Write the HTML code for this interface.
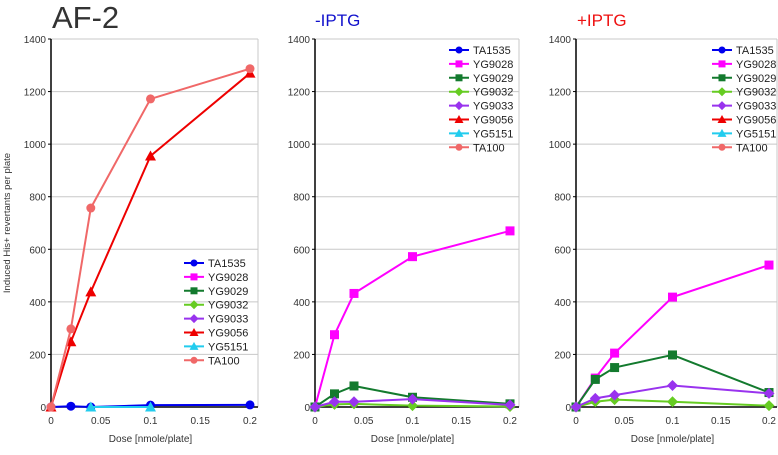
<!DOCTYPE html>
<html><head><meta charset="utf-8"><style>
body{margin:0;background:#fff;font-family:"Liberation Sans",Arial,sans-serif}
</style></head><body>
<svg id="c" width="778" height="450" xmlns="http://www.w3.org/2000/svg" font-family="Liberation Sans, Arial, sans-serif"></svg>
<script>
const doses=[0,0.02,0.04,0.1,0.2];
const strains=["TA1535","YG9028","YG9029","YG9032","YG9033","YG9056","YG5151","TA100"];
const colors=["#0000ee","#ff00ff","#137a2e","#66cc22","#9933ee","#ee0000","#22ccee","#f06868"];
const markers=["circle","square","square","diamond","diamond","triangle","triangle","circle"];
const yTicks=[0,200,400,600,800,1000,1200,1400];
const xTicks=[0,0.05,0.1,0.15,0.2];
const af2=[[0,3,0,7,8],null,null,null,null,[0,248,438,955,1270],[null,null,0,0,null],[0,297,757,1172,1287]];
const minus=[null,[0,275,432,572,670],[0,50,80,37,12],[0,10,12,5,2],[0,20,20,30,8],null,null,null];
const plus=[null,[0,110,205,418,540],[0,105,150,198,55],[0,20,28,20,5],[0,33,45,82,52],null,null,null];
const panels=[{d:af2,x0:51,x1:250,r:258,leg:[184,263],name:"af2"},{d:minus,x0:315,x1:510,r:519,leg:[449,50],name:"minus-iptg"},{d:plus,x0:576,x1:769,r:777,leg:[712,50],name:"plus-iptg"}];
const svg=document.getElementById('c');const NS="http://www.w3.org/2000/svg";
function el(t,a,p){const e=document.createElementNS(NS,t);for(const k in a)e.setAttribute(k,a[k]);(p||svg).appendChild(e);return e;}
const Y0=407,Y1=39;
const ys=v=>Y0-(v/1400)*(Y0-Y1);
function mark(g,m,x,y,c,s){
 if(m==="circle")return el('circle',{cx:x,cy:y,r:s,fill:c},g);
 if(m==="square")return el('rect',{x:x-s,y:y-s,width:2*s,height:2*s,fill:c},g);
 if(m==="diamond")return el('polygon',{points:`${x},${y-s-1} ${x+s+1},${y} ${x},${y+s+1} ${x-s-1},${y}`,fill:c},g);
 return el('polygon',{points:`${x},${y-s-1} ${x+s+1},${y+s} ${x-s-1},${y+s}`,fill:c},g);
}
panels.forEach(p=>{
 const xs=v=>p.x0+(v/0.2)*(p.x1-p.x0);
 const g=el('g',{});
 yTicks.forEach(t=>{if(t>0)el('line',{x1:p.x0,x2:p.r,y1:ys(t),y2:ys(t),stroke:'#c8c8c8'},g);
  el('line',{x1:p.x0-3,x2:p.x0,y1:ys(t),y2:ys(t),stroke:'#000'},g);
  const tx=el('text',{x:p.x0-5,y:ys(t)+4,'text-anchor':'end','font-size':10,fill:'#333'},g);tx.textContent=t;
  });
 el('line',{x1:p.r,x2:p.r,y1:Y1,y2:Y0,stroke:'#c8c8c8'},g);
 el('line',{x1:p.x0,x2:p.r,y1:Y1,y2:Y1,stroke:'#c8c8c8'},g);
 el('line',{x1:p.x0,x2:p.x0,y1:Y1,y2:Y0,stroke:'#000','stroke-width':1.5},g);
 el('line',{x1:p.x0,x2:p.r,y1:Y0,y2:Y0,stroke:'#000','stroke-width':1.5},g);
 xTicks.forEach(t=>{const tx=el('text',{x:xs(t),y:Y0+17,'text-anchor':'middle','font-size':10,fill:'#333'},g);tx.textContent=t;
  });
 const xt=el('text',{x:(p.x0+p.x1)/2,y:442,'text-anchor':'middle','font-size':10,fill:'#333'},g);xt.textContent="Dose [nmole/plate]";
 
 p.d.forEach((s,i)=>{
  if(!s)return;
  const sg=el('g',{},g);
  const pts=s.map((v,j)=>v===null?null:[xs(doses[j]),ys(v)]).filter(q=>q);
  el('polyline',{points:pts.map(q=>q.join(',')).join(' '),fill:'none',stroke:colors[i],'stroke-width':2},sg);
  pts.forEach(q=>{const m=mark(sg,markers[i],q[0],q[1],colors[i],4.5);});
 });
 const lg=el('g',{},g);
 strains.forEach((s,i)=>{const y=p.leg[1]+i*13.9;
  el('line',{x1:p.leg[0],x2:p.leg[0]+20,y1:y,y2:y,stroke:colors[i],'stroke-width':2},lg);
  mark(lg,markers[i],p.leg[0]+10,y,colors[i],3.5);
  const t=el('text',{x:p.leg[0]+24,y:y+4,'font-size':11,fill:'#222'},lg);t.textContent=s;
  });
});
const t1=el('text',{x:52,y:28,'font-size':31,fill:'#333'});t1.textContent="AF-2";

const t2=el('text',{x:315,y:26,'font-size':17,fill:'#1010cc'});t2.textContent="-IPTG";

const t3=el('text',{x:577,y:26,'font-size':17,fill:'#ee1111'});t3.textContent="+IPTG";

const ya=el('text',{x:0,y:0,'font-size':9.5,fill:'#333','text-anchor':'middle',transform:'translate(10,223) rotate(-90)'});ya.textContent="Induced His+ revertants per plate";

</script>
</body></html>
